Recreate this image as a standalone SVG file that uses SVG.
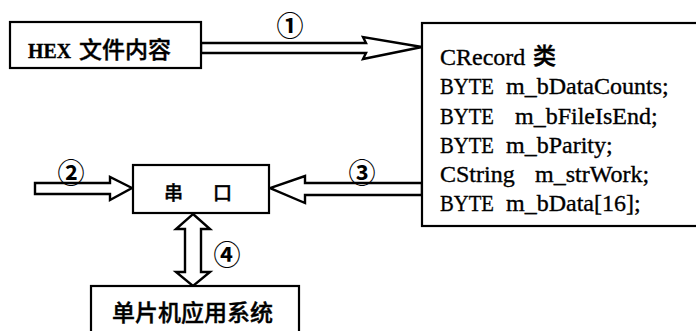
<svg xmlns="http://www.w3.org/2000/svg" width="696" height="331" viewBox="0 0 696 331">
<style>
.box{fill:#fff;stroke:#000;stroke-width:2.2}
.arr{fill:#fff;stroke:#000;stroke-width:2.4;stroke-linejoin:miter}
.en{font-family:"Liberation Serif","Times New Roman",serif;font-size:24px;fill:#000;stroke:#000;stroke-width:0.35}
.cjk{font-family:"Noto Sans CJK SC","Noto Sans CJK JP",sans-serif;fill:#000;font-weight:500;stroke:#000;stroke-width:0.4}
.num{font-family:"Noto Sans CJK SC","DejaVu Sans",sans-serif;font-size:27px;fill:#000;text-anchor:middle;font-weight:bold}
</style>
<rect width="696" height="331" fill="#fff"/>
<g id="connectors">
  <polygon class="arr" points="201,43 366,43 363,37 422,47 363,59 366,53 201,53"/>
  <polygon class="arr" points="35,183 110,183 110,177 132,188 110,200 110,194 35,194"/>
  <polygon class="arr" points="422,183 305,183 305,176 270,188 305,203 305,195 422,195"/>
  <polygon class="arr" points="193,214 210,229 201,229 201,272 210,272 193,286 176,272 185,272 185,229 176,229"/>
  <text class="num" x="290" y="36">①</text>
  <text class="num" x="71" y="183">②</text>
  <text class="num" x="362" y="183">③</text>
  <text class="num" x="227" y="265">④</text>
</g>
<g id="hex">
  <rect class="box" x="10" y="22" width="191" height="46"/>
  <text class="en" x="28" y="58" style="font-size:22px;font-weight:bold" textLength="43" lengthAdjust="spacingAndGlyphs">HEX</text>
  <text class="cjk" x="79" y="58" style="font-size:23px">文件内容</text>
</g>
<g id="crecord">
  <rect class="box" x="422" y="23" width="290" height="203"/>
  <text class="en" y="65"><tspan x="440">CRecord</tspan></text>
  <text class="cjk" x="533" y="64" style="font-size:23px">类</text>
  <text class="en" y="94"><tspan x="440" textLength="54" lengthAdjust="spacingAndGlyphs">BYTE</tspan><tspan x="506">m_bDataCounts;</tspan></text>
  <text class="en" y="123.5"><tspan x="440" textLength="54" lengthAdjust="spacingAndGlyphs">BYTE</tspan><tspan x="515">m_bFileIsEnd;</tspan></text>
  <text class="en" y="152.5"><tspan x="440" textLength="54" lengthAdjust="spacingAndGlyphs">BYTE</tspan><tspan x="506">m_bParity;</tspan></text>
  <text class="en" y="181.5"><tspan x="440">CString</tspan><tspan x="535">m_strWork;</tspan></text>
  <text class="en" y="210.5"><tspan x="440" textLength="54" lengthAdjust="spacingAndGlyphs">BYTE</tspan><tspan x="506">m_bData[16];</tspan></text>
</g>
<g id="serial">
  <rect class="box" x="133" y="165" width="136" height="48"/>
  <text class="cjk" x="164" y="200" style="font-size:19px">串</text>
  <text class="cjk" x="213" y="200" style="font-size:19px">口</text>
</g>
<g id="mcu">
  <rect class="box" x="91" y="286" width="208" height="60"/>
  <text class="cjk" x="112" y="321" style="font-size:23px">单片机应用系统</text>
</g>
</svg>
